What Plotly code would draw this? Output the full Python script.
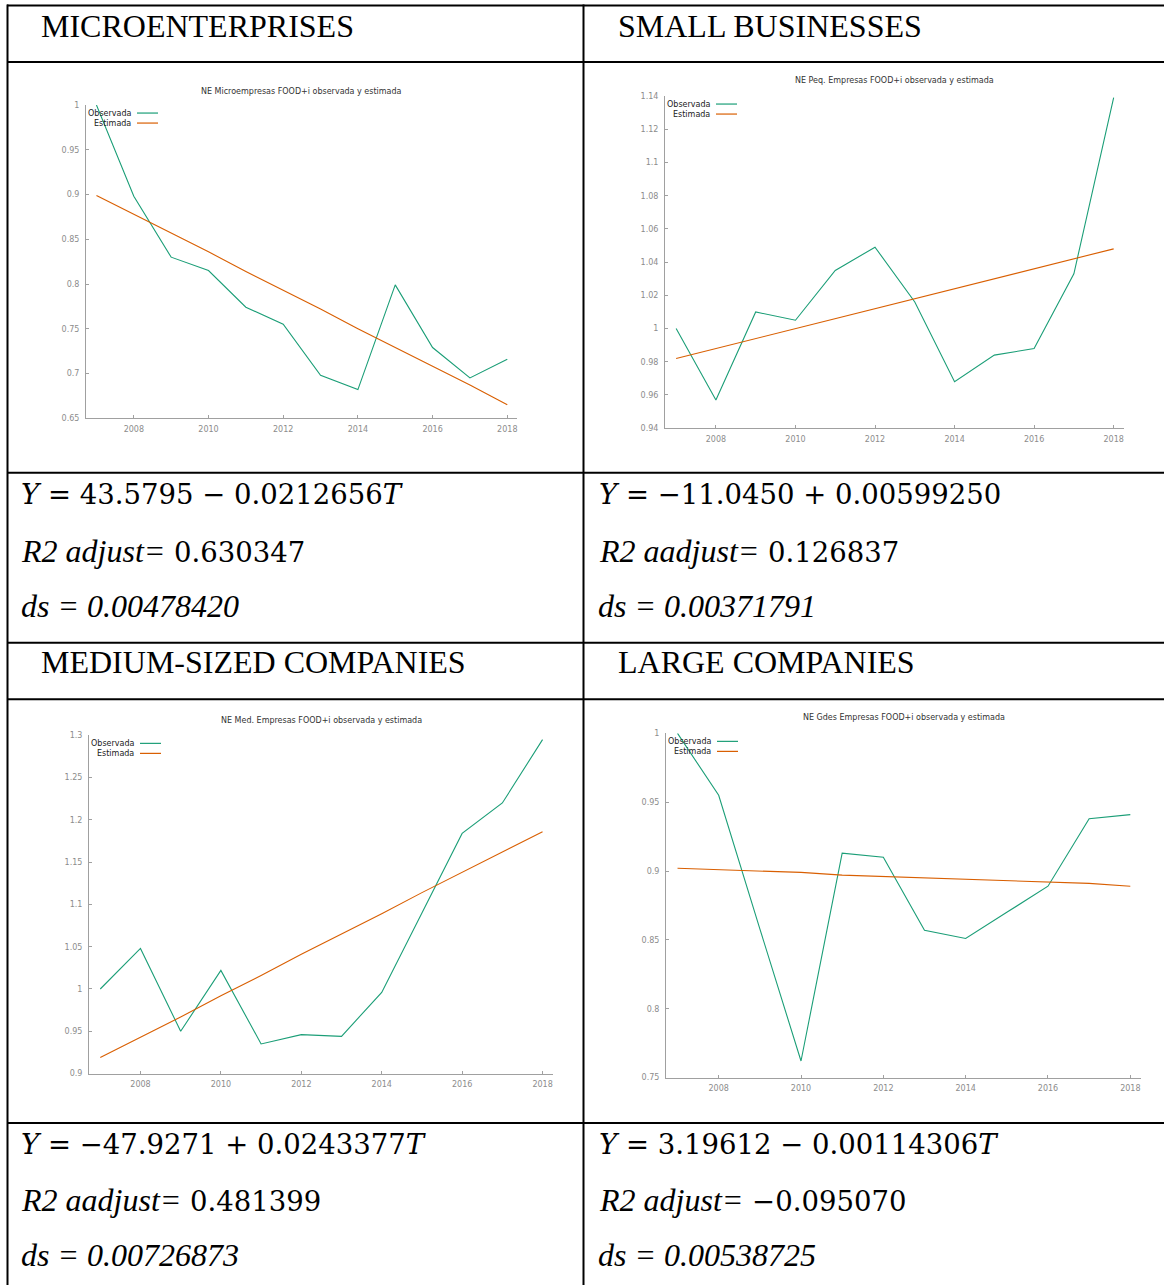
import plotly.graph_objects as go

# ---------------- data ----------------
years = [2007, 2008, 2009, 2010, 2011, 2012, 2013, 2014, 2015, 2016, 2017, 2018]

micro_obs = [1.000, 0.898, 0.830, 0.815, 0.774, 0.755, 0.698, 0.682, 0.799, 0.729, 0.695, 0.716]
micro_est = [0.899, 0.878, 0.857, 0.836, 0.814, 0.793, 0.772, 0.750, 0.729, 0.708, 0.687, 0.665]

small_obs = [1.000, 0.957, 1.010, 1.005, 1.035, 1.049, 1.016, 0.968, 0.984, 0.988, 1.033, 1.139]
small_est = [0.982, 0.988, 0.994, 1.000, 1.006, 1.012, 1.018, 1.024, 1.030, 1.036, 1.042, 1.048]

medium_obs = [1.000, 1.048, 0.950, 1.022, 0.935, 0.946, 0.944, 0.996, 1.090, 1.184, 1.220, 1.295]
medium_est = [0.919, 0.943, 0.967, 0.992, 1.016, 1.041, 1.065, 1.089, 1.114, 1.138, 1.162, 1.186]

large_obs = [1.000, 0.955, 0.858, 0.762, 0.913, 0.910, 0.857, 0.851, 0.870, 0.889, 0.938, 0.941]
large_est = [0.902, 0.901, 0.900, 0.899, 0.897, 0.896, 0.895, 0.894, 0.893, 0.892, 0.891, 0.889]

headers = ["MICROENTERPRISES", "SMALL BUSINESSES", "MEDIUM-SIZED COMPANIES", "LARGE COMPANIES"]
chart_titles = [
    "NE Microempresas FOOD+i observada y estimada",
    "NE Peq. Empresas FOOD+i observada y estimada",
    "NE Med. Empresas FOOD+i observada y estimada",
    "NE Gdes Empresas FOOD+i observada y estimada",
]
series_names = ["Observada", "Estimada"]

eq_y = ["43.5795 \u2212 0.0212656<i>T</i>", "\u221211.0450 + 0.00599250",
        "\u221247.9271 + 0.0243377<i>T</i>", "3.19612 \u2212 0.00114306<i>T</i>"]
r2_labels = ["R2 adjust=", "R2 aadjust=", "R2 aadjust=", "R2 adjust="]
r2_values = ["0.630347", "0.126837", "0.481399", "\u22120.095070"]
ds_values = ["0.00478420", "0.00371791", "0.00726873", "0.00538725"]

y_ranges = [(0.65, 1.0), (0.94, 1.14), (0.9, 1.3), (0.75, 1.0)]
y_dticks = [0.05, 0.02, 0.05, 0.05]

# ---------------- layout geometry (pixels) ----------------
W, H = 1164, 1285
GREEN = "#1b9e77"
ORANGE = "#d95f02"
AXC = "#a0a0a0"
TICKC = "#8c8c8c"
XR = [2006.72, 2018.26]

# plot-area boxes: (left, right, top, bottom) in px
boxes = [(86, 517, 105, 418), (665, 1124, 96, 428), (89, 553, 735, 1073), (666, 1141, 733, 1077)]
title_gap = [14, 16, 15, 16]

# small vertical correction for the capture
VS, VO = 0.9925, 4.0


def px(x):
    return x / W


def py(y):
    return 1 - ((y - VO) / VS) / H


fig = go.Figure()
layout = dict(
    width=W, height=H, autosize=False,
    margin=dict(l=0, r=0, t=0, b=0),
    paper_bgcolor="white", plot_bgcolor="white",
    showlegend=False,
)
annotations = []
shapes = []

obs_list = [micro_obs, small_obs, medium_obs, large_obs]
est_list = [micro_est, small_est, medium_est, large_est]

for i in range(4):
    n = i + 1
    xs = "" if n == 1 else str(n)
    l, r, t, b = boxes[i]
    fig.add_trace(go.Scatter(x=years, y=obs_list[i], mode="lines", name=series_names[0],
                             line=dict(color=GREEN, width=1.1), xaxis="x" + xs, yaxis="y" + xs))
    fig.add_trace(go.Scatter(x=years, y=est_list[i], mode="lines", name=series_names[1],
                             line=dict(color=ORANGE, width=1.1), xaxis="x" + xs, yaxis="y" + xs))
    tf = dict(family="DejaVu Sans", size=8, color=TICKC)
    layout["xaxis" + xs] = dict(
        domain=[px(l), px(r)], range=XR, anchor="y" + xs,
        tickmode="linear", tick0=2008, dtick=2,
        ticks="inside", ticklen=3, tickcolor=AXC, tickwidth=1,
        showline=True, linecolor=AXC, linewidth=1,
        showgrid=False, zeroline=False, tickfont=tf, ticklabelstandoff=3,
        fixedrange=True,
    )
    y0, y1 = y_ranges[i]
    layout["yaxis" + xs] = dict(
        domain=[py(b), py(t)], range=[y0, y1 + 1e-9], anchor="x" + xs,
        tickmode="linear", tick0=y0, dtick=y_dticks[i],
        ticks="inside", ticklen=3, tickcolor=AXC, tickwidth=1,
        showline=True, linecolor=AXC, linewidth=1,
        showgrid=False, zeroline=False, tickfont=tf, ticklabelstandoff=4,
        fixedrange=True,
    )
    annotations.append(dict(x=px((l + r) / 2), y=py(t - title_gap[i]), xref="paper", yref="paper",
                            text=chart_titles[i], showarrow=False, xanchor="center", yanchor="middle",
                            font=dict(family="DejaVu Sans", size=8, color="#333333")))
    for k, (nm, col) in enumerate(zip(series_names, [GREEN, ORANGE])):
        ly = t + 8 + 10 * k
        annotations.append(dict(x=px(l + 47), y=py(ly), xref="paper", yref="paper",
                                text=nm, showarrow=False, xanchor="right", yanchor="middle",
                                font=dict(family="DejaVu Sans", size=8, color="#222222")))
        shapes.append(dict(type="line", xref="paper", yref="paper",
                           x0=px(l + 51), x1=px(l + 72), y0=py(ly), y1=py(ly),
                           line=dict(color=col, width=1.2)))

# ---------------- table borders ----------------
BL = dict(color="black", width=2)
for yy in [5.5, 62, 472.5, 642.5, 699, 1122.5]:
    shapes.append(dict(type="line", xref="paper", yref="paper", x0=px(7), x1=px(W + 2),
                       y0=py(yy), y1=py(yy), line=BL))
for xx in [7.5, 583.5]:
    shapes.append(dict(type="line", xref="paper", yref="paper", x0=px(xx), x1=px(xx),
                       y0=py(4.5), y1=py(H + 10), line=BL))

# ---------------- table text ----------------
col_x = [39, 616, 39, 616]
head_y = [26, 26, 662, 662]
for i in range(4):
    annotations.append(dict(x=px(col_x[i]), y=py(head_y[i]), xref="paper", yref="paper",
                            text=headers[i], showarrow=False, xanchor="left", yanchor="middle",
                            font=dict(family="Liberation Serif", size=32, color="black")))

eq_x = [19, 597, 19, 597]
eq_rows = [(494, 551, 606), (494, 551, 606), (1143, 1199, 1254), (1143, 1199, 1254)]
for i in range(4):
    r1, r2, r3 = eq_rows[i]
    annotations.append(dict(x=px(eq_x[i]), y=py(r1), xref="paper", yref="paper",
                            text="<i>Y</i> = " + eq_y[i], showarrow=False, xanchor="left", yanchor="middle",
                            font=dict(family="DejaVu Serif", size=27.5, color="black")))
    annotations.append(dict(x=px(eq_x[i]), y=py(r2), xref="paper", yref="paper",
                            text="<i>" + r2_labels[i] + "</i><span style='font-family:DejaVu Serif;font-size:27.5px'> "
                                 + r2_values[i] + "</span>",
                            showarrow=False, xanchor="left", yanchor="middle",
                            font=dict(family="Liberation Serif", size=32, color="black")))
    annotations.append(dict(x=px(eq_x[i] - (1 if i % 2 else 0)), y=py(r3), xref="paper", yref="paper",
                            text="<i>ds = " + ds_values[i] + "</i>", showarrow=False,
                            xanchor="left", yanchor="middle",
                            font=dict(family="Liberation Serif", size=32, color="black")))

layout["annotations"] = annotations
layout["shapes"] = shapes
fig.update_layout(**layout)

fig.write_html(
    "out.html", config={"displayModeBar": False},
    post_script=("document.body.style.margin='0';"
                 "document.documentElement.style.overflow='hidden';"
                 "document.body.style.overflow='hidden';"
                 "var d=document.getElementById('{plot_id}');"
                 "d.style.position='absolute';d.style.top='0px';d.style.left='0px';"),
)
